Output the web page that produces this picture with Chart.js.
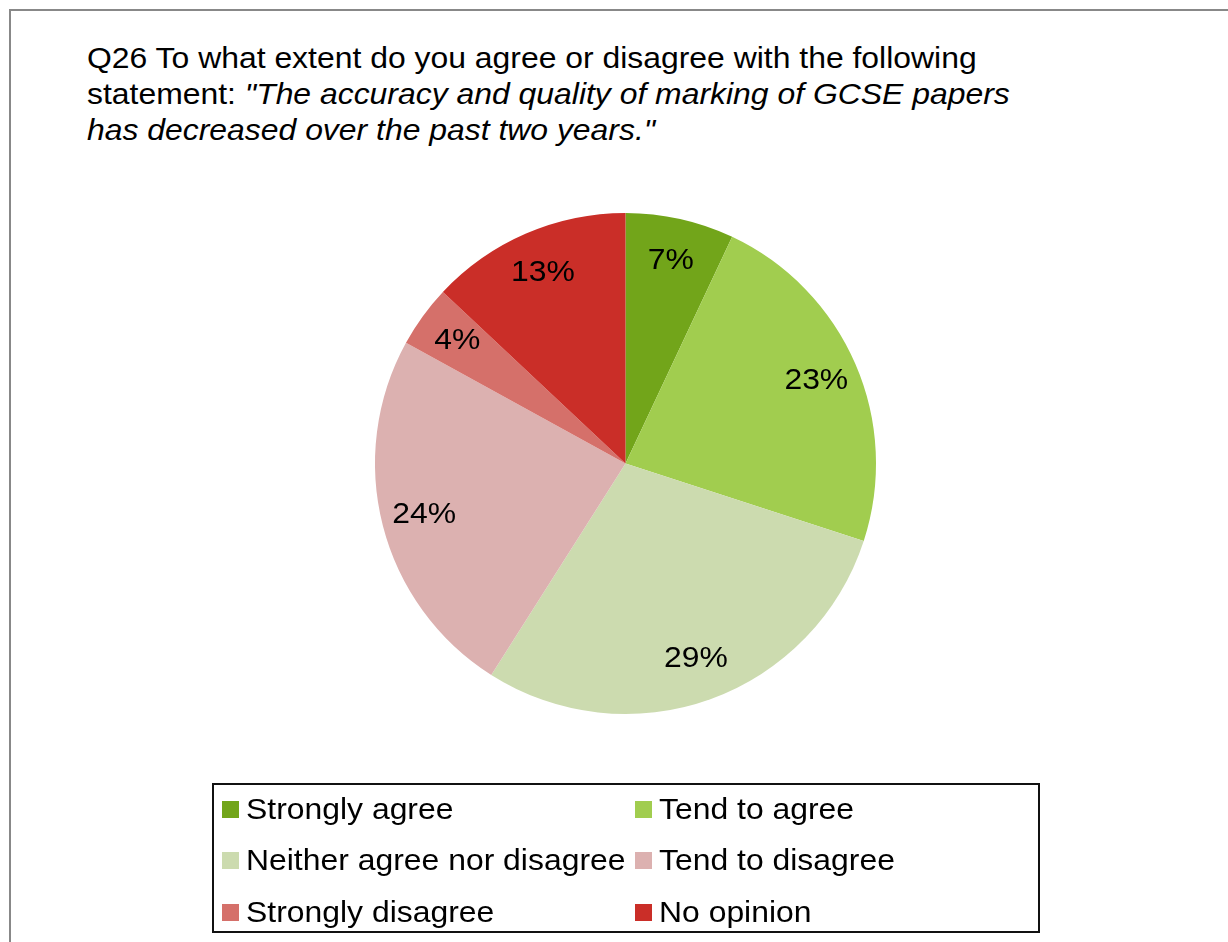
<!DOCTYPE html>
<html>
<head>
<meta charset="utf-8">
<script src="https://cdn.jsdelivr.net/npm/chart.js@4.4.1/dist/chart.umd.min.js"></script>
<style>
    html, body { margin: 0; padding: 0; background: #fff; width: 1228px; height: 942px; overflow: hidden; }
    body { position: relative; font-family: "Liberation Sans", Arial, sans-serif; color: #000; }
    #frame { position: absolute; left: 9px; top: 9px; width: 1300px; height: 1000px; border: 2px solid #888; }
    #title { position: absolute; left: 87px; top: 40px; font-size: 29px; line-height: 36px; white-space: nowrap; transform: scaleX(1.1); transform-origin: left top; }
    #chart { position: absolute; left: 0; top: 0; }
    #legend { position: absolute; left: 212px; top: 783px; width: 824px; height: 146px; border: 2px solid #111; }
    #legend ul { list-style: none; margin: 0; padding: 0; }
    #legend li { position: absolute; display: flex; align-items: center; font-size: 29px; white-space: nowrap; height: 36px; }
    #legend li .sw { display: inline-block; width: 17px; height: 17px; margin-right: 7px; }
    #legend li .tx { display: inline-block; transform: scaleX(1.1); transform-origin: left center; }
</style>
</head>
<body>
<div id="frame"></div>
<div id="title">Q26 To what extent do you agree or disagree with the following<br>statement: <i>"The accuracy and quality of marking of GCSE papers</i><br><i>has decreased over the past two years."</i></div>
<canvas id="chart" width="1228" height="942"></canvas>
<div id="legend"></div>
<script>
var categories = ["Strongly agree", "Tend to agree", "Neither agree nor disagree", "Tend to disagree", "Strongly disagree", "No opinion"];
var percents = [7, 23, 29, 24, 4, 13];
var colours = ["#72a51a", "#a1cd4f", "#ccdbaf", "#dcb1b0", "#d5706a", "#ca2e28"];

// labels drawn inside each slice (text a little wide, like the original)
const sliceLabels = {
    id: "sliceLabels",
    afterDatasetsDraw(chart) {
        const ctx = chart.ctx
        const meta = chart.getDatasetMeta(0)
        ctx.save()
        ctx.font = "29px 'Liberation Sans', Arial, sans-serif"
        ctx.fillStyle = "#000"
        ctx.textAlign = "center"
        ctx.textBaseline = "middle"
        meta.data.forEach((arc, i) => {
            const p = arc.getProps(["x", "y", "startAngle", "endAngle", "outerRadius"], true)
            const mid = (p.startAngle + p.endAngle) / 2
            const r = p.outerRadius * 0.83
            ctx.save()
            ctx.translate(p.x + Math.cos(mid) * r, p.y + Math.sin(mid) * r)
            ctx.scale(1.1, 1)
            ctx.fillText(chart.data.datasets[0].data[i] + "%", 0, 0)
            ctx.restore()
        })
        ctx.restore()
    }
}

// two column legend in a box, built from the chart's own legend items
const htmlLegend = {
    id: "htmlLegend",
    afterUpdate(chart) {
        const box = document.getElementById("legend")
        box.innerHTML = ""
        const ul = document.createElement("ul")
        const items = chart.options.plugins.legend.labels.generateLabels(chart)
        items.forEach((item, i) => {
            const li = document.createElement("li")
            li.style.left = (i % 2 == 0 ? 8 : 421) + "px"
            li.style.top = (Math.floor(i / 2) * 51.5 + 6) + "px"
            li.innerHTML = `<span class="sw" style="background:${item.fillStyle}"></span><span class="tx">${item.text}</span>`
            ul.appendChild(li)
        })
        box.appendChild(ul)
    }
}

new Chart(document.getElementById("chart").getContext("2d"), {
    type: "pie",
    data: {
        labels: categories,
        datasets: [{
            data: percents,
            backgroundColor: colours,
            borderWidth: 0,
        }],
    },
    options: {
        responsive: false,
        animation: false,
        layout: { padding: { left: 375, right: 352, top: 213, bottom: 228 } },
        plugins: {
            legend: { display: false },
            tooltip: { enabled: false },
        },
    },
    plugins: [sliceLabels, htmlLegend],
})
</script>
</body>
</html>
